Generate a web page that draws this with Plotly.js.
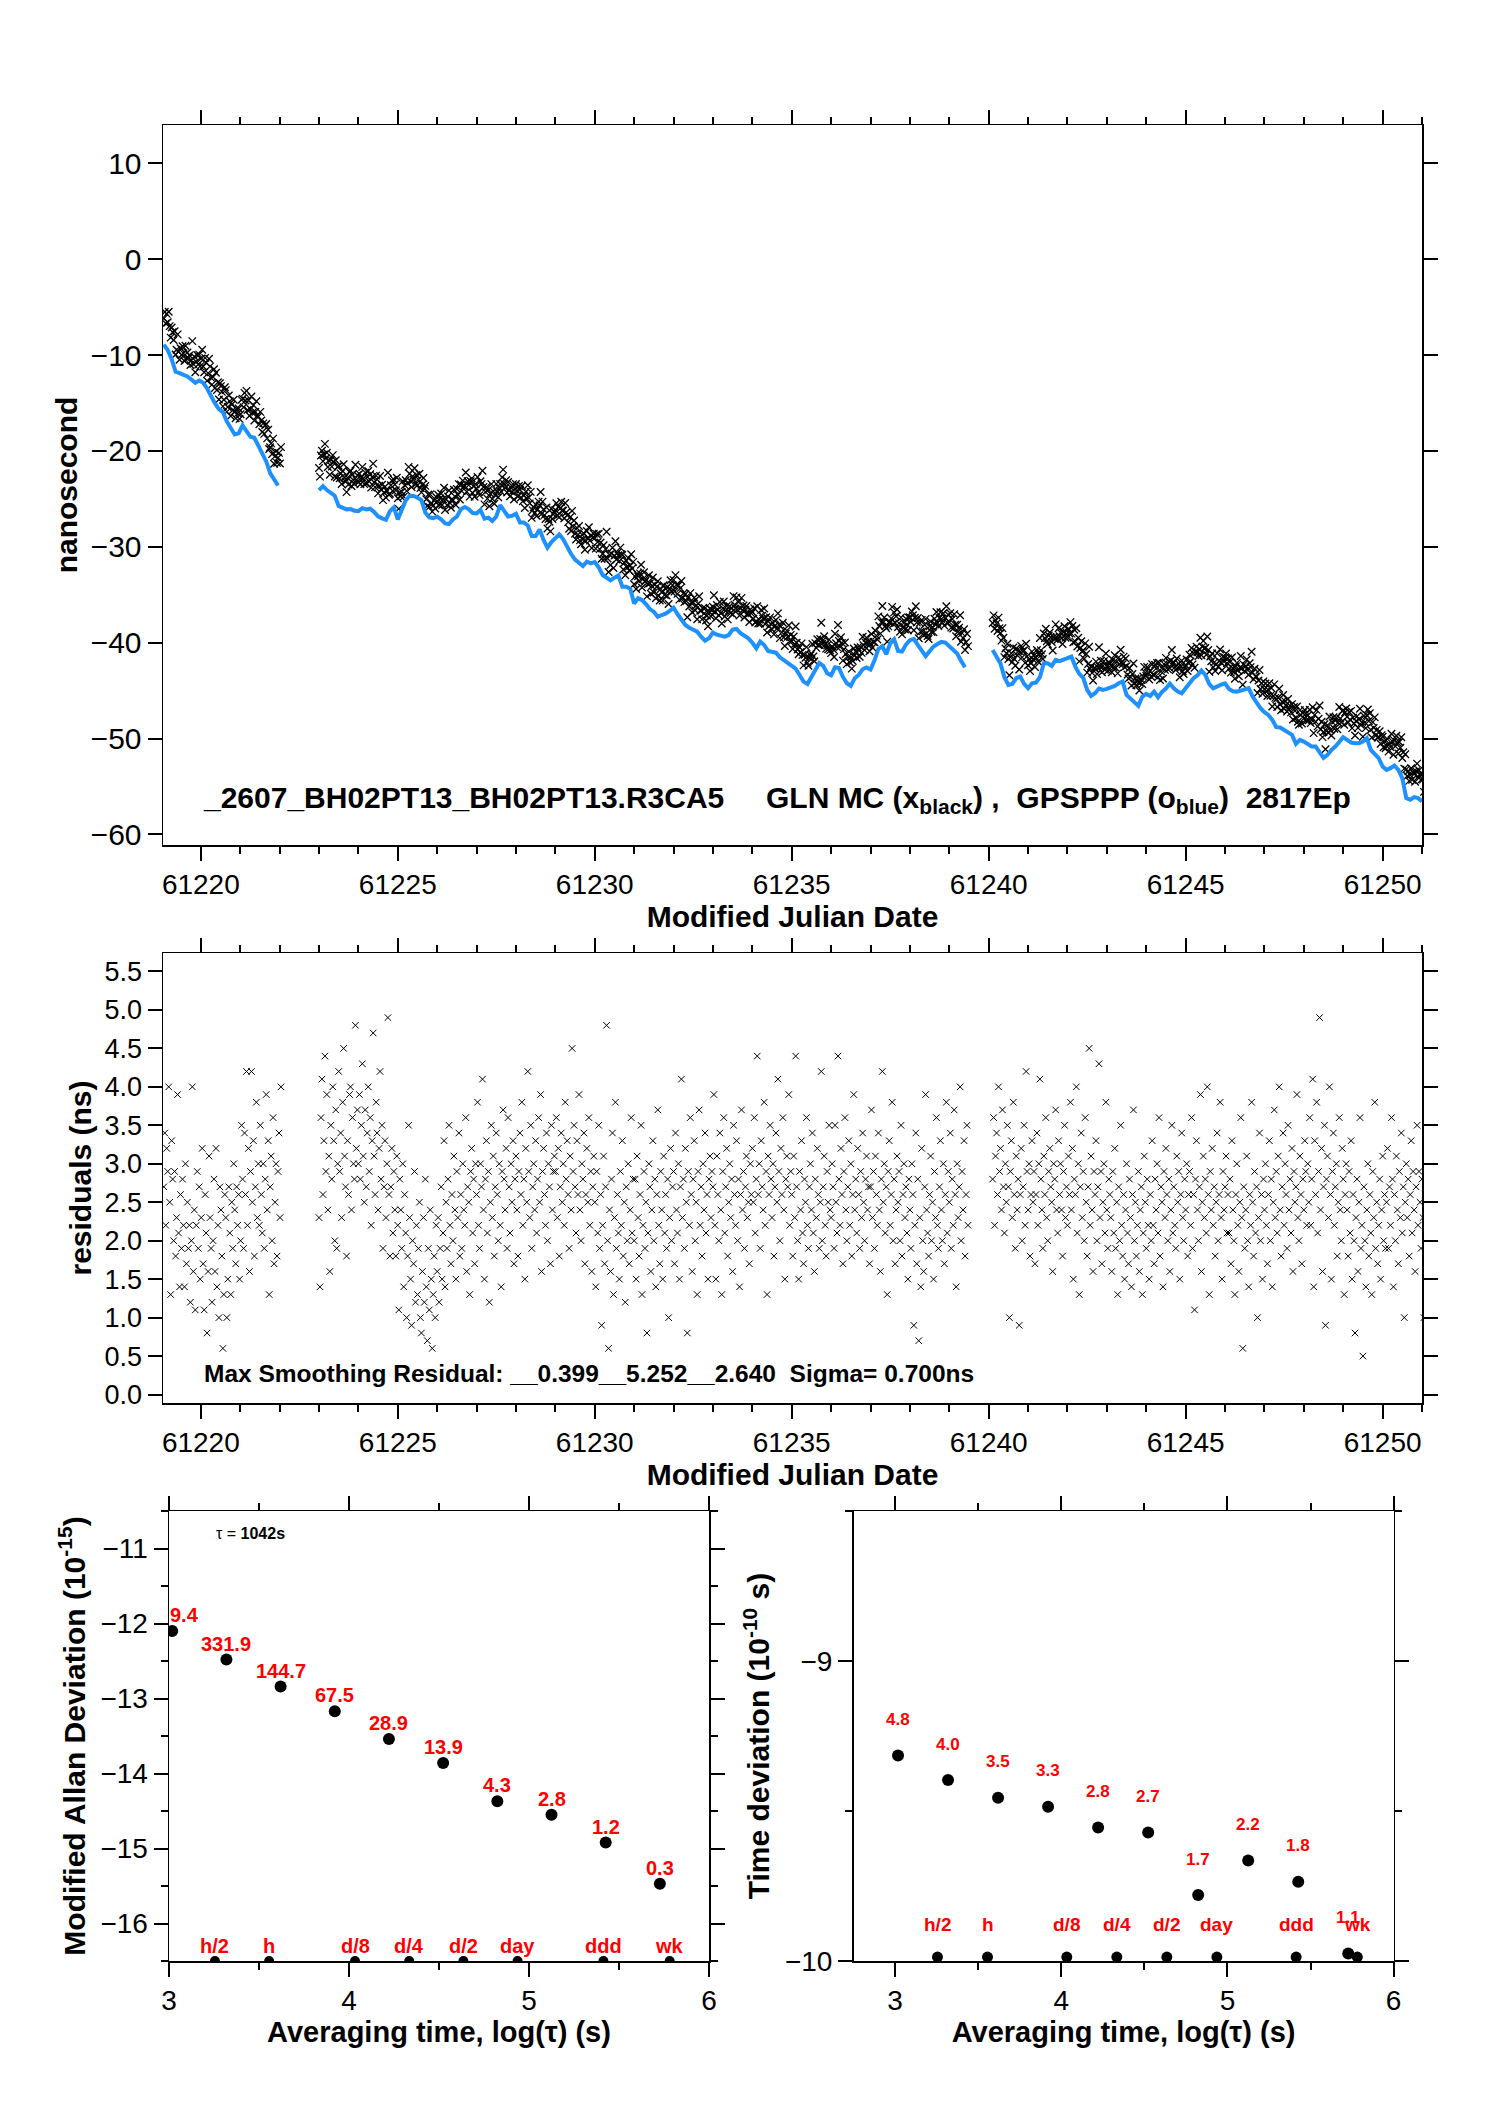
<!DOCTYPE html>
<html><head><meta charset="utf-8">
<script src="https://cdn.plot.ly/plotly-3.0.1.min.js"></script>
<style>html,body{margin:0;padding:0;background:#fff;}#chart{width:1488px;height:2105px;}</style>
</head><body><div id="chart"></div>
<script>
// ================= DATA =================
// segment start times (MJD) ; blue (GPSPPP) sampled every 0.1 d, residuals every 0.025 d
const seg1Start = 61219.06, seg2Start = 61223.0, seg3Start = 61240.1;
const blueStep = 0.1, residStep = 0.025;

const blueSeg1 = [-8.90,-9.48,-10.42,-11.74,-11.88,-12.02,-12.23,-12.54,-12.89,-12.65,-12.89,-13.48,-14.28,-15.04,-15.64,-15.95,-16.92,-17.65,-18.28,-18.17,-17.34,-17.93,-18.52,-18.62,-19.42,-20.12,-21.09,-22.31,-23.04,-23.6];

const blueSeg2 = [-24.08,-23.66,-24.08,-24.43,-24.67,-25.75,-25.89,-26.09,-26.06,-26.23,
-26.27,-25.96,-26.09,-26.02,-26.37,-26.82,-27.03,-27.17,-26.27,-25.89,
-27.14,-26.16,-25.16,-24.67,-24.70,-24.88,-25.12,-26.44,-26.93,-27.00,
-26.86,-27.14,-27.55,-27.62,-27.14,-26.86,-26.09,-25.85,-26.06,-26.48,
-26.51,-26.16,-27.07,-26.96,
-27.31,-26.83,-25.65,-26.24,-26.83,-26.76,-26.55,-27.45,-27.45,-27.77,
-28.88,-28.88,-28.18,-29.29,-30.09,-29.50,-29.05,-28.70,-29.22,-30.02,
-30.75,-31.34,-31.73,-32.00,-31.55,-31.73,-31.59,-32.14,-32.94,-33.22,
-33.50,-33.22,-32.98,-34.16,-34.16,-34.37,-35.90,-35.37,-35.55,-35.97,
-36.49,-36.76,-37.29,-37.11,-36.97,-36.69,-36.35,-37.01,-37.67,-38.15,
-38.43,-38.61,-38.85,-39.37,-39.79,-39.54,-38.95,-39.16,-39.30,-39.37,
-39.20,-38.64,-38.57,-39.02,-39.27,-39.54,-40.00,-40.59,-39.89,-40.24,
-40.86,-40.93,-41.04,-41.52,-41.84,-42.08,-42.46,-42.71,-43.37,-44.06,
-44.30,
-43.53,-42.84,-42.11,-42.42,-43.18,-43.39,-42.56,-42.63,-43.57,-44.23,
-44.50,-43.70,-43.36,-42.77,-42.59,-42.80,-41.86,-40.65,-40.37,-41.20,
-40.06,-39.64,-40.86,-40.93,-40.20,-39.74,-39.60,-40.23,-40.82,-41.41,
-40.89,-40.40,-40.13,-39.92,-39.99,-40.33,-40.72,-41.13,-41.90,-42.56];

const blueSeg3 = [-40.75,-41.38,-42.18,-43.60,-44.40,-44.30,-43.70,-43.53,-44.30,-44.75,
-44.23,-44.16,-43.60,-42.14,-42.14,-42.42,-41.79,-41.93,-41.79,-41.65,
-41.45,-42.49,-43.25,-43.67,-44.92,-45.55,-45.27,-44.78,-44.92,-44.82,
-44.68,-44.50,-44.23,-44.05,-45.44,
-45.86,-46.24,-46.59,-45.62,-45.34,-45.55,-45.10,-45.69,-45.13,-44.78,
-44.26,-44.75,-45.10,-45.27,-44.75,-44.16,-43.71,-43.39,-42.91,-43.36,
-44.33,-44.75,-44.50,-44.37,-44.23,-44.82,-45.06,-45.10,-44.99,-44.85,
-44.75,-45.62,-46.24,-46.83,-47.25,-47.53,-48.05,-48.81,-48.85,-49.09,
-49.37,-49.61,-50.55,-50.13,-50.31,-50.59,-50.83,-50.83,-51.45,-52.01,
-51.70,-51.18,-50.83,-50.31,-49.86,-50.13,-50.41,-50.48,-50.48,-50.31,
-49.96,-51.18,-51.59,-52.04,-52.91,-53.26,-53.09,-52.81,-53.26,-54.13,
-56.21,-56.39,-56.11,-56.21,-56.56];

// residuals (ns), GLN MC minus GPSPPP
const resid1 = [2.7,3.4,2.2,3.2,2.9,4.0,2.5,1.3,3.3,2.8,2.0,2.9,1.8,2.3,3.9,2.1,1.4,2.6,1.9,2.8,2.2,1.4,3.0,1.7,2.5,1.9,2.2,1.2,2.0,4.0,1.6,2.4,1.1,2.2,2.9,1.9,2.7,1.5,2.3,3.2,
1.7,1.1,2.6,2.1,0.8,1.6,3.1,2.3,1.9,1.2,2.0,2.8,1.6,3.2,1.4,2.2,1.0,2.7,2.4,1.8,0.6,1.3,2.6,2.3,1.0,1.5,2.7,2.1,1.3,2.5,1.9,3.0,2.4,1.7,2.7,2.2,2.6,1.5,2.0,3.5,
2.8,1.9,3.4,2.6,4.2,2.2,3.2,1.6,2.9,4.2,2.5,3.3,1.8,2.7,3.8,2.3,3.0,2.2,3.5,2.6,2.1,3.0,1.9,2.8,3.9,2.4,3.3,1.3,2.7,3.1,2.0,3.6,1.7,2.5,3.0,1.8,2.9,3.4,2.3,4.0];

const resid2 = [2.3,1.4,3.6,4.1,2.6,3.3,4.4,2.9,3.9,2.4,3.1,1.6,3.5,2.8,4.0,3.3,2.0,3.7,1.9,3.0,4.2,2.9,3.4,2.3,3.8,4.5,3.1,2.7,1.8,3.3,2.6,3.9,4.0,2.4,3.6,3.0,2.8,4.8,3.2,3.7,
3.0,3.9,2.8,3.5,4.3,3.1,2.5,3.7,2.7,3.4,4.0,2.9,3.6,2.2,3.3,4.7,3.1,2.6,3.8,3.4,2.4,3.2,4.2,2.8,3.5,1.9,2.7,3.3,2.3,3.0,4.9,2.6,1.8,2.7,3.2,2.1,2.9,2.4,1.8,3.1,
2.2,1.1,2.8,2.4,1.9,3.0,1.4,2.6,2.1,1.0,1.8,3.5,2.3,1.5,0.9,2.0,1.7,2.9,1.2,2.2,1.3,1.9,2.5,1.0,0.8,1.6,2.3,1.2,2.8,1.4,0.7,1.9,1.1,2.4,1.5,0.6,1.3,1.8,1.0,2.2,
1.6,2.3,1.2,1.9,2.7,1.5,2.1,3.3,1.4,2.5,1.9,2.8,3.5,2.2,1.7,2.6,2.0,3.1,2.4,1.5,2.9,2.3,3.4,1.8,2.6,1.9,3.0,2.4,2.2,3.6,1.6,2.7,2.5,1.3,2.9,3.2,2.1,2.8,1.7,3.0,
2.6,3.8,2.2,1.9,3.0,2.7,4.1,2.4,1.5,2.8,3.3,2.1,2.9,1.2,2.5,3.5,2.3,3.1,1.8,2.7,3.4,2.6,2.0,3.0,2.2,1.4,2.9,3.7,2.8,2.4,3.2,1.9,3.6,2.7,2.1,3.0,2.5,3.3,1.7,2.8,
3.1,2.4,1.8,2.9,3.4,2.6,3.8,2.2,2.8,1.5,3.2,2.5,4.2,2.9,2.3,3.5,1.9,2.7,3.0,2.4,3.3,2.1,2.8,3.6,2.5,3.9,1.6,2.9,3.2,2.6,2.2,3.4,2.0,3.0,2.7,1.7,3.5,2.4,2.9,3.1,
2.9,3.6,2.3,3.2,1.8,2.7,3.4,2.5,3.0,2.2,3.8,2.8,3.3,2.6,1.9,3.1,2.4,4.5,2.9,3.5,2.7,2.1,3.3,2.6,3.9,2.4,2.0,3.0,2.8,3.4,1.7,2.6,3.2,2.5,3.6,2.2,2.9,1.6,2.7,3.1,
2.5,1.4,2.9,2.1,3.5,1.9,2.6,0.9,2.2,3.1,1.7,2.7,4.8,2.0,0.6,2.4,1.6,2.8,3.4,1.3,2.3,3.8,1.9,2.6,2.1,1.5,2.9,2.2,3.3,1.8,2.5,1.2,2.7,2.0,3.0,1.7,2.4,3.6,2.1,2.8,
2.0,2.8,1.5,3.1,2.3,1.8,2.6,3.5,1.3,2.2,2.9,1.9,2.5,0.8,2.1,3.0,2.7,1.6,2.4,3.3,2.0,2.8,1.4,2.6,3.7,2.2,1.7,2.9,2.4,1.5,3.1,2.1,2.6,1.9,2.8,1.0,2.3,3.2,2.0,2.7,
2.9,1.7,3.4,2.4,2.1,3.0,1.5,2.7,4.1,2.3,2.8,1.9,3.2,2.5,0.8,2.9,2.2,3.6,2.6,1.6,2.8,3.3,2.0,2.5,1.3,2.9,3.7,2.2,2.7,1.8,3.0,2.4,3.4,2.1,2.6,1.5,2.8,3.1,2.3,2.9,
2.7,3.9,2.2,1.5,3.1,2.6,2.0,3.4,2.4,1.3,2.9,3.6,2.1,2.7,3.2,1.8,2.5,3.0,2.3,2.8,1.6,3.5,2.6,2.2,3.3,2.0,2.8,1.4,2.6,3.7,2.4,2.9,1.9,2.7,3.1,2.3,2.5,1.7,3.0,2.6,
3.2,2.5,3.6,2.1,2.8,4.4,2.6,3.0,1.9,3.3,2.7,2.4,3.8,2.2,2.9,1.3,3.1,2.6,3.5,2.8,2.3,3.0,1.8,2.7,3.4,2.5,4.1,2.9,2.0,3.2,2.6,3.6,2.4,1.5,2.8,3.1,2.7,3.9,2.2,2.9,
2.6,1.8,3.1,2.3,4.4,2.7,2.0,1.5,2.9,2.4,3.3,2.1,1.7,2.8,2.5,3.6,2.2,1.9,2.7,3.0,2.4,3.4,2.1,1.6,2.8,2.3,3.2,2.6,1.9,2.5,4.2,2.0,2.7,3.1,2.2,1.8,2.9,2.5,3.5,2.4,
2.3,3.0,2.7,1.9,3.5,2.5,2.1,4.4,2.8,2.2,3.2,2.6,1.7,2.9,3.6,2.4,2.0,2.7,3.3,2.2,3.0,1.8,2.6,3.9,2.4,2.8,2.1,3.2,2.6,1.9,2.9,2.3,3.4,2.5,2.0,2.8,3.1,2.4,2.7,1.7,
2.7,3.7,2.3,2.9,1.9,3.1,2.6,2.2,3.4,2.4,1.6,2.8,4.2,2.5,3.0,2.1,2.7,1.3,2.9,3.3,2.2,2.6,3.8,2.0,2.8,1.7,2.4,3.1,2.5,2.9,2.0,3.5,1.8,2.6,3.0,2.3,2.7,2.1,1.5,2.8,
2.4,1.9,3.0,2.6,0.9,2.2,3.4,1.7,2.8,0.7,2.3,1.4,3.2,2.0,1.6,2.7,3.9,2.4,2.1,1.8,2.6,3.1,2.0,2.5,1.5,2.9,2.3,3.6,2.2,1.9,2.7,3.3,2.4,2.0,3.0,1.7,2.6,3.8,2.1,2.9,
2.5,3.4,1.9,2.8,2.2,3.7,2.6,1.4,3.0,2.3,2.7,4.0,2.0,2.9,2.4,3.3,1.8,2.6,3.5,2.2];

const resid3 = [2.8,3.6,2.2,3.1,3.4,2.6,4.0,2.9,3.2,2.4,3.7,2.7,2.1,3.0,2.5,3.5,2.7,1.0,2.9,3.3,2.3,3.8,2.6,1.9,3.1,2.4,2.8,0.9,2.6,3.2,2.0,2.7,3.5,2.2,4.2,2.9,2.4,3.0,1.8,2.6,
3.3,2.5,2.9,1.7,2.6,3.4,2.2,3.0,4.1,2.8,2.4,1.9,3.1,2.6,3.6,2.3,2.0,2.9,3.2,2.7,2.5,1.6,3.0,2.8,3.7,2.4,2.1,3.3,2.6,3.0,2.4,1.8,2.9,3.5,2.3,2.7,2.2,3.1,2.6,3.8,
2.4,3.2,1.5,2.8,2.6,4.0,2.1,3.0,1.3,2.7,3.4,2.3,2.9,2.0,3.6,2.5,1.8,2.7,4.5,2.2,3.1,2.4,1.6,2.9,2.6,3.3,2.0,2.7,4.3,2.3,2.9,1.7,2.5,3.0,2.1,3.8,2.4,1.9,2.8,2.6,
2.3,1.6,2.9,2.1,3.2,1.9,2.5,1.3,2.7,2.0,3.5,2.2,1.8,2.6,1.5,2.4,3.0,2.1,1.7,2.8,2.3,1.4,2.6,3.7,2.0,2.5,1.8,2.2,2.9,1.6,2.4,2.7,1.3,2.1,3.1,2.5,1.9,2.8,2.2,1.5,
2.6,2.0,3.3,2.2,1.7,2.8,2.4,3.0,2.1,3.6,1.8,2.7,2.5,1.4,2.9,2.3,3.2,2.6,2.0,2.8,1.6,2.4,3.5,2.1,2.7,2.2,1.9,3.1,2.5,2.9,1.5,2.6,3.4,2.3,2.0,2.8,2.4,3.0,1.8,2.6,
2.9,2.2,3.6,1.9,2.6,1.1,2.8,3.3,2.4,2.0,2.7,3.9,1.6,2.5,3.1,2.3,2.8,2.1,4.0,2.6,1.3,2.9,2.4,3.2,2.2,2.7,1.8,2.5,3.4,2.0,2.6,3.8,2.3,1.5,2.9,2.4,2.7,3.1,2.1,2.6,
2.1,2.8,1.7,3.3,2.4,2.0,1.3,2.6,3.0,2.2,1.6,2.5,3.6,2.3,0.6,2.7,1.9,2.4,3.1,2.0,1.4,2.6,2.2,3.8,2.5,1.8,2.9,2.1,2.7,1.0,2.3,3.4,2.0,2.6,1.5,2.8,2.4,3.0,2.2,1.7,
2.6,3.3,2.0,2.8,1.4,2.5,3.7,2.3,2.9,2.1,3.1,4.0,2.4,1.8,2.7,3.4,2.2,3.0,2.6,1.9,3.5,2.4,2.8,2.1,3.2,1.6,2.9,2.5,2.7,3.9,2.3,2.0,3.1,2.6,1.7,2.8,2.4,3.3,2.9,2.2,
3.0,2.5,3.6,2.2,2.8,4.1,1.4,3.3,2.6,3.8,2.1,2.9,4.9,2.4,3.2,1.6,2.7,3.5,0.9,2.8,3.1,2.3,4.0,2.6,1.5,2.9,3.4,2.2,2.7,3.0,1.8,2.5,3.6,2.4,2.0,3.2,2.8,1.3,2.6,3.0,
2.4,1.8,2.9,2.1,3.3,1.5,2.6,2.0,0.8,2.3,2.8,1.6,2.5,3.6,1.9,2.2,0.5,2.7,2.0,1.4,2.4,3.0,1.8,2.6,2.1,1.3,2.9,2.3,3.8,1.9,2.5,1.7,2.2,2.8,1.5,2.4,3.1,2.0,2.6,1.9,
2.5,3.2,1.9,2.7,2.2,3.6,2.8,1.4,2.6,2.0,3.1,2.4,1.7,2.9,2.3,3.4,2.1,2.7,1.0,2.5,3.0,2.3,2.8,1.8,2.6,3.3,2.1,2.9,2.4,1.6,2.7,3.5,2.2,2.9,2.5,1.9,2.8,2.3,1.0,2.6];

// stability analysis
const tauSec = [1042,2084,4168,8336,16672,33344,66688,133376,266752,533504];
const mdevLog = [-12.10,-12.48,-12.84,-13.17,-13.54,-13.86,-14.37,-14.55,-14.92,-15.47];
const mdevLabels = ['9.4','331.9','144.7','67.5','28.9','13.9','4.3','2.8','1.2','0.3'];
const tdevLog = [-9.315,-9.397,-9.456,-9.486,-9.555,-9.572,-9.780,-9.665,-9.736,-9.975];
const tdevLabels = ['4.8','4.0','3.5','3.3','2.8','2.7','1.7','2.2','1.8','1.1'];
const markSec = [1800,3600,10800,21600,43200,86400,259200,604800];
const markNames = ['h/2','h','d/8','d/4','d/2','day','ddd','wk'];
const mdevMarkLevel = -16.5, tdevMarkLevel = -9.987;

// ================= BUILD =================
const W = 1488, H = 2105;
const FONT = 'Liberation Sans, Arial, Helvetica, sans-serif';
const px = p => p / W;
const py = p => 1 - p / H;
const sp = n => '\u00a0'.repeat(n);

const segs = [[seg1Start, blueSeg1, resid1],[seg2Start, blueSeg2, resid2],[seg3Start, blueSeg3, resid3]];
const blueX = [], blueY = [], blackX = [], blackY = [], resX = [], resY = [];
segs.forEach(([t0, blue, res], si) => {
  if (si > 0) { blueX.push(null); blueY.push(null); }
  blue.forEach((v, i) => { blueX.push(+(t0 + i * blueStep).toFixed(4)); blueY.push(v); });
  res.forEach((r, j) => {
    const t = +(t0 + j * residStep).toFixed(4);
    resX.push(t); resY.push(r);
    const b = blue[Math.floor(j * residStep / blueStep + 1e-9)];
    if (b !== undefined) { blackX.push(t); blackY.push(+(b + r).toFixed(2)); }
  });
});

const logTau = tauSec.map(v => Math.log10(v));
const logMark = markSec.map(v => Math.log10(v));

const traces = [
  {x: blackX, y: blackY, xaxis:'x', yaxis:'y', mode:'markers', type:'scatter', name:'GLN MC',
   marker:{symbol:'x-thin', size:7.5, line:{width:1.3, color:'#000'}}},
  {x: blueX, y: blueY, xaxis:'x', yaxis:'y', mode:'lines', type:'scatter', name:'GPSPPP', connectgaps:false,
   line:{color:'#1E90FF', width:4}},
  {x: resX, y: resY, xaxis:'x2', yaxis:'y2', mode:'markers', type:'scatter', name:'residuals',
   marker:{symbol:'x-thin', size:6.5, line:{width:1, color:'#000'}}},
  {x: logTau, y: mdevLog, xaxis:'x3', yaxis:'y3', mode:'markers', type:'scatter',
   marker:{symbol:'circle', size:12, color:'#000'}},
  {x: logMark, y: markSec.map(() => mdevMarkLevel), xaxis:'x3', yaxis:'y3', mode:'markers', type:'scatter',
   marker:{symbol:'circle', size:10, color:'#000'}},
  {x: logTau, y: tdevLog, xaxis:'x4', yaxis:'y4', mode:'markers', type:'scatter', cliponaxis:false,
   marker:{symbol:'circle', size:12, color:'#000'}},
  {x: logMark, y: markSec.map(() => tdevMarkLevel), xaxis:'x4', yaxis:'y4', mode:'markers', type:'scatter', cliponaxis:false,
   marker:{symbol:'circle', size:11, color:'#000'}}
];

const baseAx = {
  showline:true, linecolor:'#000', linewidth:1.5, mirror:'ticks', ticks:'outside',
  ticklen:14, tickwidth:2, tickcolor:'#000', showgrid:false, zeroline:false,
  automargin:false, fixedrange:true, color:'#000'
};
const ax = o => Object.assign({}, baseAx, o);
const minorOpt = (d, t0) => ({dtick:d, tick0:t0, ticks:'outside', ticklen:7, tickwidth:2, tickcolor:'#000', showgrid:false});
const tfont = s => ({family:FONT, size:s, color:'#000'});
const ttl = (txt, s, so) => ({text:'<b>'+txt+'</b>', font:{family:FONT, size:s, color:'#000'}, standoff:so});

const layout = {
  width:W, height:H, margin:{l:0,r:0,t:0,b:0}, showlegend:false,
  paper_bgcolor:'#fff', plot_bgcolor:'#fff', font:{family:FONT, color:'#000'},
  xaxis: ax({domain:[px(163), px(1422)], anchor:'y', range:[61219.04, 61251.0], tickmode:'linear', tick0:61220, dtick:5,
    tickformat:'d', tickfont:tfont(28), minor:minorOpt(1, 61220), title:ttl('Modified Julian Date', 30, 1)}),
  yaxis: ax({domain:[py(845), py(125)], anchor:'x', range:[-61.1, 14], tickmode:'linear', tick0:0, dtick:10,
    tickfont:tfont(30), title:ttl('nanosecond', 30, 4)}),
  xaxis2: ax({domain:[px(163), px(1422)], anchor:'y2', range:[61219.04, 61251.0], tickmode:'linear', tick0:61220, dtick:5,
    tickformat:'d', tickfont:tfont(28), minor:minorOpt(1, 61220), title:ttl('Modified Julian Date', 30, 1)}),
  yaxis2: ax({domain:[py(1403), py(953)], anchor:'x2', range:[-0.11, 5.74], tickmode:'linear', tick0:0, dtick:0.5,
    tickformat:'.1f', tickfont:tfont(27), title:ttl('residuals (ns)', 30, 4)}),
  xaxis3: ax({domain:[px(169), px(709)], anchor:'y3', range:[3, 6], tickmode:'linear', tick0:3, dtick:1,
    tickfont:tfont(28), minor:minorOpt(0.5, 3), title:ttl('Averaging time, log(τ) (s)', 29, 0)}),
  yaxis3: ax({domain:[py(1961), py(1511)], anchor:'x3', range:[-16.5, -10.5], tickmode:'linear', tick0:-11, dtick:1,
    tickfont:tfont(28), minor:minorOpt(0.5, -11), title:ttl('Modified Allan Deviation (10<sup>-15</sup>)', 30, 6)}),
  xaxis4: ax({domain:[px(853.5), px(1393.6)], anchor:'y4', range:[2.75, 6.0], tickmode:'linear', tick0:3, dtick:1,
    tickfont:tfont(28), minor:minorOpt(0.5, 3), title:ttl('Averaging time, log(τ) (s)', 29, 0)}),
  yaxis4: ax({domain:[py(1961), py(1511)], anchor:'x4', range:[-10, -8.5], tickmode:'linear', tick0:-10, dtick:1,
    tickfont:tfont(28), minor:minorOpt(0.5, -10), title:ttl('Time deviation (10<sup>-10</sup> s)', 30, 6)}),
  annotations: []
};

const ann = layout.annotations;
ann.push({xref:'paper', yref:'paper', x:px(201), y:py(799), xanchor:'left', yanchor:'middle', showarrow:false,
  text:'<b>_2607_BH02PT13_BH02PT13.R3CA5'+sp(5)+'GLN MC (x<sub>black</sub>)'+sp(1)+','+sp(2)+'GPSPPP (o<sub>blue</sub>)'+sp(2)+'2817Ep</b>',
  font:{family:FONT, size:30, color:'#000'}});
ann.push({xref:'paper', yref:'paper', x:px(202), y:py(1373), xanchor:'left', yanchor:'middle', showarrow:false,
  text:'<b>Max Smoothing Residual: __0.399__5.252__2.640'+sp(2)+'Sigma= 0.700ns</b>',
  font:{family:FONT, size:24.5, color:'#000'}});
ann.push({xref:'paper', yref:'paper', x:px(214), y:py(1533), xanchor:'left', yanchor:'middle', showarrow:false,
  text:'τ = <b>1042s</b>', font:{family:FONT, size:16, color:'#000'}});

logTau.forEach((x, i) => {
  ann.push({xref:'x3', yref:'y3', x:x, y:mdevLog[i], text:'<b>'+mdevLabels[i]+'</b>', showarrow:false,
    xanchor: i === 0 ? 'left' : 'center', xshift: i === 0 ? -4 : 0, yshift:16,
    font:{family:FONT, size:20, color:'#FF0000'}});
  ann.push({xref:'x4', yref:'y4', x:x, y:tdevLog[i], text:'<b>'+tdevLabels[i]+'</b>', showarrow:false,
    yshift:36, font:{family:FONT, size:17, color:'#FF0000'}});
});
logMark.forEach((x, i) => {
  ann.push({xref:'x3', yref:'y3', x:x, y:mdevMarkLevel, text:'<b>'+markNames[i]+'</b>', showarrow:false,
    yshift:15, font:{family:FONT, size:20, color:'#FF0000'}});
  ann.push({xref:'x4', yref:'y4', x:x, y:tdevMarkLevel, text:'<b>'+markNames[i]+'</b>', showarrow:false,
    yshift:33, font:{family:FONT, size:19, color:'#FF0000'}});
});

Plotly.newPlot('chart', traces, layout, {staticPlot:true, displayModeBar:false});
</script>
</body></html>
